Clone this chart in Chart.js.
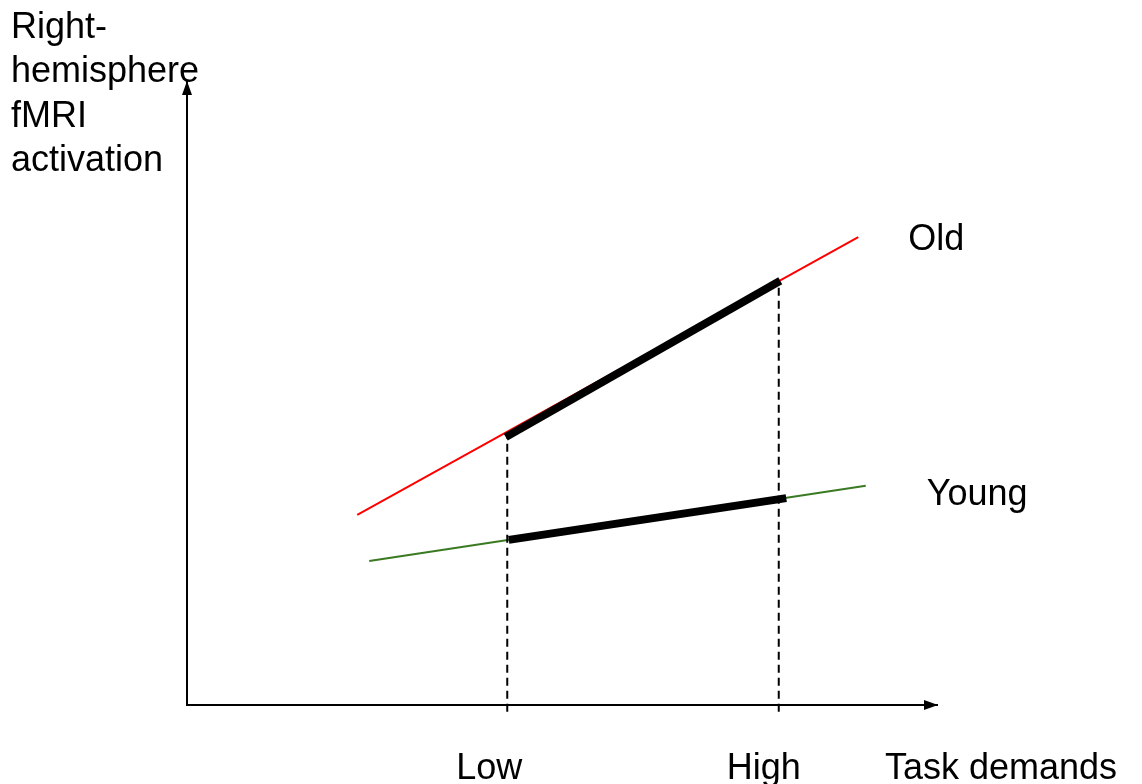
<!DOCTYPE html>
<html>
<head>
<meta charset="utf-8">
<script src="https://cdn.jsdelivr.net/npm/chart.js@4/dist/chart.umd.min.js"></script>
<style>
  html, body { margin: 0; padding: 0; background: #ffffff; }
  #wrap { width: 1142px; height: 784px; }
</style>
</head>
<body>
<div id="wrap"><canvas id="c" width="1142" height="784"></canvas></div>
<script>
// ---- data (arbitrary units: task demand 0-10, activation 0-10) ----
const demandLabels = ['Low', 'High'];
const demandX = [4.27, 7.89];
const oldTrendX = [2.27, 8.95];
const oldTrendY = [3.05, 7.51];
const youngTrendX = [2.43, 9.05];
const youngTrendY = [2.31, 3.52];
const oldRangeX = [4.25, 7.91];
const oldRangeY = [4.30, 6.81];
const youngRangeX = [4.29, 7.99];
const youngRangeY = [2.65, 3.32];
const dropY = [4.30, 6.81];
const axisFloor = -0.11;
const yTitleLines = ['Right-', 'hemisphere', 'fMRI', 'activation'];
const xTitle = 'Task demands';
const seriesNames = ['Old', 'Young'];

const pts = (xs, ys) => xs.map((x, i) => ({ x: x, y: ys[i] }));

const FONT = '36px "Liberation Sans", Arial, sans-serif';

const annotatePlugin = {
  id: 'annotate',
  afterDraw(chart) {
    const ctx = chart.ctx;
    const xs = chart.scales.x, ys = chart.scales.y;
    const a = chart.chartArea;
    ctx.save();
    // arrowheads
    ctx.fillStyle = '#000';
    ctx.beginPath();
    ctx.moveTo(a.right + 1, a.bottom);
    ctx.lineTo(a.right - 13, a.bottom - 5);
    ctx.lineTo(a.right - 13, a.bottom + 5);
    ctx.closePath();
    ctx.fill();
    ctx.beginPath();
    ctx.moveTo(a.left, a.top - 1);
    ctx.lineTo(a.left - 5, a.top + 13);
    ctx.lineTo(a.left + 5, a.top + 13);
    ctx.closePath();
    ctx.fill();

    ctx.font = FONT;
    ctx.fillStyle = '#000';
    ctx.textBaseline = 'alphabetic';
    // y title
    ctx.textAlign = 'left';
    yTitleLines.forEach((t, i) => ctx.fillText(t, 11, 38 + i * 44.3));
    // series labels
    ctx.fillText(seriesNames[0], xs.getPixelForValue(oldTrendX[1]) + 50, ys.getPixelForValue(oldTrendY[1]) + 13);
    ctx.fillText(seriesNames[1], xs.getPixelForValue(youngTrendX[1]) + 61, ys.getPixelForValue(youngTrendY[1]) + 19);
    // x labels
    ctx.textAlign = 'center';
    ctx.fillText(demandLabels[0], xs.getPixelForValue(demandX[0]) - 18, 779);
    ctx.fillText(demandLabels[1], xs.getPixelForValue(demandX[1]) - 15, 779);
    ctx.textAlign = 'left';
    ctx.fillText(xTitle, 885, 779);
    ctx.restore();
  }
};

new Chart(document.getElementById('c'), {
  type: 'line',
  data: {
    datasets: [
      { label: 'Old', order: 3, data: pts(oldTrendX, oldTrendY), borderColor: '#ff0000', borderWidth: 2, pointRadius: 0, fill: false },
      { label: 'Young', order: 3, data: pts(youngTrendX, youngTrendY), borderColor: '#3a7a22', borderWidth: 2, pointRadius: 0, fill: false },
      { label: 'drop-low', order: 2, data: [{ x: demandX[0], y: axisFloor }, { x: demandX[0], y: dropY[0] }], borderColor: '#000', borderWidth: 2, borderDash: [8, 5], pointRadius: 0, clip: false },
      { label: 'drop-high', order: 2, data: [{ x: demandX[1], y: axisFloor }, { x: demandX[1], y: dropY[1] }], borderColor: '#000', borderWidth: 2, borderDash: [8, 5], pointRadius: 0, clip: false },
      { label: 'Old range', order: 1, data: pts(oldRangeX, oldRangeY), borderColor: '#000', borderWidth: 8, borderCapStyle: 'butt', pointRadius: 0 },
      { label: 'Young range', order: 1, data: pts(youngRangeX, youngRangeY), borderColor: '#000', borderWidth: 8, borderCapStyle: 'butt', pointRadius: 0 }
    ]
  },
  options: {
    responsive: false,
    animation: false,
    layout: { padding: { left: 187, top: 82, right: 205, bottom: 79 } },
    plugins: { legend: { display: false }, tooltip: { enabled: false }, title: { display: false } },
    scales: {
      x: {
        type: 'linear', min: 0, max: 10,
        grid: { display: false, drawTicks: false },
        ticks: { display: false },
        border: { display: true, color: '#000', width: 2 }
      },
      y: {
        type: 'linear', min: 0, max: 10,
        grid: { display: false, drawTicks: false },
        ticks: { display: false },
        border: { display: true, color: '#000', width: 2 }
      }
    }
  },
  plugins: [annotatePlugin]
});
</script>
</body>
</html>
